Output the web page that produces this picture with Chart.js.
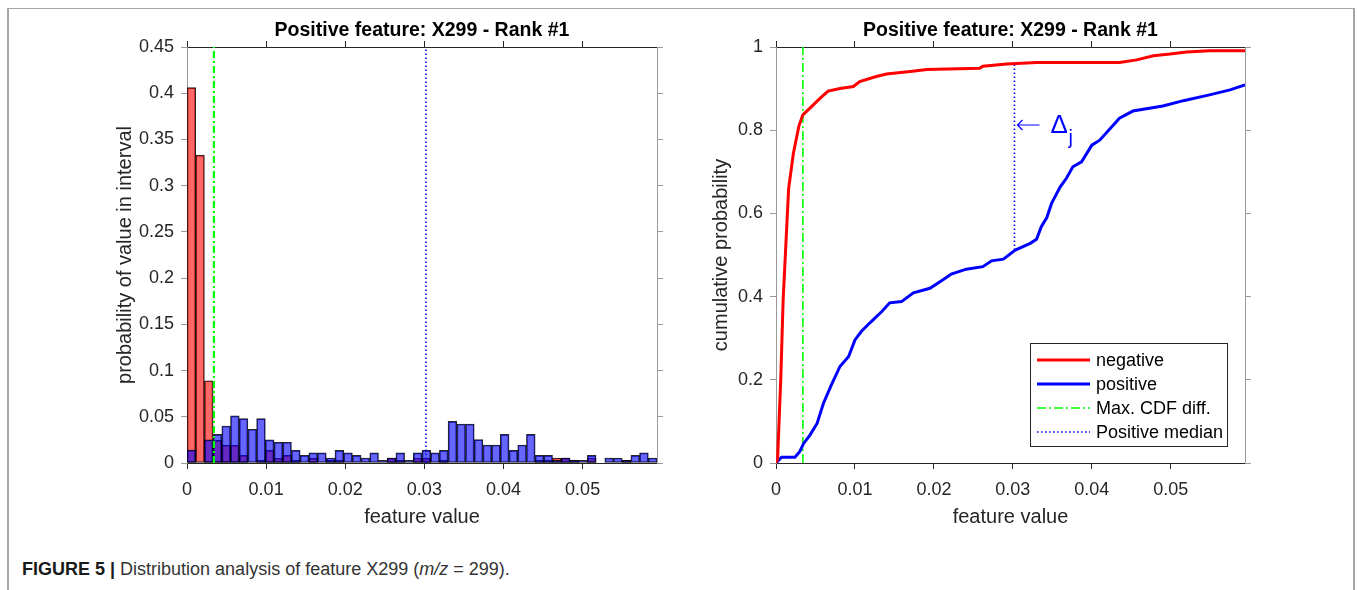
<!DOCTYPE html>
<html>
<head>
<meta charset="utf-8">
<script src="https://cdn.jsdelivr.net/npm/chart.js@4.4.1/dist/chart.umd.min.js"></script>
<style>
  body { margin:0; background:#fff; width:1357px; height:590px; overflow:hidden; position:relative;
         font-family:"Liberation Sans", Arial, Helvetica, sans-serif; }
  #frame { position:absolute; left:7px; top:8px; width:1344px; height:640px;
           border:1px solid #a6a6a6; border-left-width:2px; border-right-width:2px; }
  .plot { position:absolute; top:0; height:529px; }
  #histBox { left:113px; width:564px; }
  #cdfBox { left:709px; width:556px; }
  #caption { position:absolute; left:22px; top:559px; font-size:18px; line-height:20px; color:#333; white-space:nowrap; }
  #caption b { color:#1a1a1a; }
</style>
</head>
<body>
<div id="frame"></div>
<div class="plot" id="histBox"><canvas id="histChart"></canvas></div>
<div class="plot" id="cdfBox"><canvas id="cdfChart"></canvas></div>
<div id="caption"><b>FIGURE 5 |</b> Distribution analysis of feature X299 (<i>m/z</i> = 299).</div>

<script>
(function() {
  /* data */
  var binWidth = 0.0011;
  var xMax = 0.0594;

  // histogram: probability of value in each bin (54 bins)
  var negativeHist = [0.406, 0.333, 0.089, 0.0245, 0.019, 0.019, 0.0083, 0, 0.003, 0.0137,
                      0.005, 0.0083, 0.003, 0, 0.005, 0, 0.003, 0.003, 0, 0,
                      0, 0, 0, 0.0054, 0.003, 0, 0.0054, 0.005, 0, 0.003,
                      0, 0, 0, 0, 0, 0, 0, 0, 0, 0,
                      0.003, 0.003, 0.0054, 0.0054, 0.003, 0, 0.0054, 0, 0, 0,
                      0.003, 0, 0, 0];
  var positiveHist = [0.014, 0, 0.025, 0.031, 0.040, 0.051, 0.048, 0.0365, 0.048, 0.025,
                      0.0224, 0.0224, 0.0137, 0.0083, 0.011, 0.011, 0.0054, 0.0137, 0.011, 0.0083,
                      0.0054, 0.011, 0.003, 0.0054, 0.011, 0.003, 0.011, 0.0137, 0.011, 0.0137,
                      0.045, 0.0422, 0.0422, 0.0253, 0.0195, 0.0195, 0.031, 0.0137, 0.0195, 0.031,
                      0.0083, 0.0083, 0.003, 0.0054, 0.003, 0.003, 0.0083, 0, 0.0054, 0.0054,
                      0.003, 0.0083, 0.011, 0.0054];

  // cumulative distributions
  var negCdfX = [0, 0.0002, 0.0006, 0.0009, 0.0016, 0.0022, 0.0029, 0.0034, 0.0043, 0.0056,
                 0.0066, 0.0081, 0.0098, 0.0106, 0.0127, 0.014, 0.017, 0.0191, 0.0258, 0.0262,
                 0.0292, 0.033, 0.0435, 0.0457, 0.0478, 0.0499, 0.052, 0.0549, 0.0594];
  var negCdfY = [0, 0.01, 0.2, 0.39, 0.66, 0.744, 0.81, 0.837, 0.853, 0.877,
                 0.894, 0.90, 0.905, 0.917, 0.929, 0.935, 0.941, 0.946, 0.949, 0.954,
                 0.959, 0.963, 0.963, 0.969, 0.979, 0.983, 0.988, 0.991, 0.991];
  var posCdfX = [0, 0.0007, 0.0024, 0.003, 0.0035, 0.0043, 0.0052, 0.006, 0.007, 0.0081,
                 0.0092, 0.01, 0.0108, 0.0119, 0.0134, 0.0144, 0.0159, 0.0174, 0.0195, 0.0212,
                 0.0222, 0.0241, 0.0262, 0.0273, 0.0288, 0.0303, 0.0322, 0.033, 0.0336, 0.0343,
                 0.0349, 0.036, 0.0368, 0.0376, 0.0387, 0.04, 0.041, 0.0435, 0.0452, 0.049,
                 0.0516, 0.0549, 0.0575, 0.0594];
  var posCdfY = [0, 0.014, 0.014, 0.027, 0.047, 0.067, 0.095, 0.143, 0.187, 0.232,
                 0.256, 0.296, 0.316, 0.337, 0.364, 0.385, 0.388, 0.409, 0.42, 0.441,
                 0.454, 0.466, 0.472, 0.486, 0.49, 0.512, 0.528, 0.538, 0.568, 0.59,
                 0.624, 0.664, 0.685, 0.712, 0.724, 0.764, 0.776, 0.829, 0.846, 0.858,
                 0.871, 0.885, 0.897, 0.909];

  var maxCdfDiffX = 0.0034;
  var positiveMedianX = 0.0302;
  var medianSpan = [0.512, 0.958];   // from positive CDF up to negative CDF
  var deltaLabelY = 0.8125;

  var histYMax = 0.45, histYStep = 0.05;
  var cdfYMax = 1, cdfYStep = 0.2;
  var xStep = 0.01;
  var titleText = 'Positive feature: X299 - Rank #1';
  var legendLabels = ['negative', 'positive', 'Max. CDF diff.', 'Positive median'];

  var FONT = '"Liberation Sans", Arial, Helvetica, sans-serif';
  var DARK = '#262626', GREY = '#9a9a9a';

  function pairs(xs, ys) {
    return xs.map(function(x, i) { return {x: x, y: ys[i]}; });
  }
  function bins(vals) {
    return vals.map(function(v, i) { return {x: (i + 0.5) * binWidth, y: v}; });
  }
  // MATLAB style tick text: 0.4 not 0.40, 1 not 1.0
  function shortNum(v) {
    return String(Math.round(v * 1e6) / 1e6);
  }

  // one axis of the box, ticks pointing outward
  function axis(pos, opts) {
    var horiz = (pos === 'top' || pos === 'bottom');
    var col = horiz ? DARK : GREY;
    var cfg = {
      type: 'linear', position: pos, min: opts.min, max: opts.max, offset: false,
      ticks: { display: !!opts.labels, stepSize: opts.step, includeBounds: false,
               color: DARK, font: {family: FONT, size: 18}, padding: opts.pad || 7, maxRotation: 0,
               callback: shortNum },
      grid: { display: true, offset: false, drawOnChartArea: false, drawTicks: true,
              tickLength: 6, color: col, lineWidth: 1 },
      border: { display: true, color: col, width: 1 },
      afterFit: function(s) { if (horiz) s.height = opts.size; else s.width = opts.size; }
    };
    if (opts.title) cfg.title = opts.title;
    return cfg;
  }

  function boxScales(yMax, yStep, yLabel, yWidth) {
    return {
      x: axis('bottom', {min: 0, max: xMax, step: xStep, labels: true, pad: 10, size: 66,
        title: {display: true, text: 'feature value', color: DARK, font: {family: FONT, size: 20}, padding: 0}}),
      xTop: axis('top', {min: 0, max: xMax, step: xStep, size: 47,
        title: {display: true, text: titleText, color: '#000', font: {family: FONT, size: 19.5, weight: 'bold'},
                padding: {top: 19, bottom: 0}}}),
      y: axis('left', {min: 0, max: yMax, step: yStep, labels: true, pad: 7, size: yWidth,
        title: {display: true, text: yLabel, color: DARK, font: {family: FONT, size: 20}, padding: 0}}),
      yRight: axis('right', {min: 0, max: yMax, step: yStep, size: 20})
    };
  }

  function vline(x, y0, y1, color, width, dash, label) {
    return { type: 'line', label: label, data: [{x: x, y: y0}, {x: x, y: y1}],
             borderColor: color, borderWidth: width, borderDash: dash,
             pointRadius: 0, fill: false, order: 0 };
  }

  var common = {
    responsive: true, maintainAspectRatio: false, animation: false, devicePixelRatio: 1,
    layout: { padding: 0 },
    plugins: { legend: { display: false }, tooltip: { enabled: false }, title: { display: false } }
  };

  // left: overlapping histograms
  new Chart(document.getElementById('histChart').getContext('2d'), {
    type: 'bar',
    data: {
      datasets: [
        vline(maxCdfDiffX, 0, histYMax, '#00ff00', 2.2, [7, 3, 2, 3]),
        vline(positiveMedianX, 0, histYMax, '#0000ff', 1.6, [1.6, 2.4]),
        { type: 'bar', data: bins(positiveHist), backgroundColor: 'rgba(0,0,255,0.6)',
          borderColor: 'rgba(0,0,0,0.85)', borderWidth: 1, borderSkipped: false,
          grouped: false, barPercentage: 1, categoryPercentage: 1, order: 1 },
        { type: 'bar', data: bins(negativeHist), backgroundColor: 'rgba(255,0,0,0.6)',
          borderColor: 'rgba(0,0,0,0.85)', borderWidth: 1, borderSkipped: false,
          grouped: false, barPercentage: 1, categoryPercentage: 1, order: 2 }
      ]
    },
    options: Object.assign({}, common, {
      scales: boxScales(histYMax, histYStep, 'probability of value in interval', 74)
    })
  });

  // legend box drawn inside the CDF axes, lower right
  var cdfLegend = {
    id: 'cdfLegend',
    afterDraw: function(chart) {
      var ctx = chart.ctx, a = chart.chartArea;
      var w = 197, h = 103;
      var left = a.right - 18 - w, top = a.bottom - 17 - h;
      ctx.save();
      ctx.fillStyle = '#fff';
      ctx.fillRect(left, top, w, h);
      ctx.strokeStyle = DARK; ctx.lineWidth = 1;
      ctx.strokeRect(Math.round(left) + 0.5, Math.round(top) + 0.5, w, h);
      chart.data.datasets.forEach(function(ds, i) {
        var y = top + 17 + i * 24;
        ctx.beginPath();
        ctx.setLineDash(ds.borderDash || []);
        ctx.strokeStyle = ds.borderColor; ctx.lineWidth = ds.borderWidth;
        ctx.moveTo(left + 7, y); ctx.lineTo(left + 60, y);
        ctx.stroke();
        ctx.setLineDash([]);
        ctx.fillStyle = '#000';
        ctx.font = '18px ' + FONT;
        ctx.textBaseline = 'middle';
        ctx.fillText(ds.label, left + 66, y + 1);
      });
      ctx.restore();
    }
  };

  // "<- Delta_j" note beside the median line
  var deltaNote = {
    id: 'deltaNote',
    afterDatasetsDraw: function(chart) {
      var ctx = chart.ctx;
      var px = chart.scales.x.getPixelForValue(positiveMedianX);
      var py = chart.scales.y.getPixelForValue(deltaLabelY);
      ctx.save();
      ctx.strokeStyle = '#0000ff'; ctx.lineWidth = 1.2;
      ctx.beginPath();
      ctx.moveTo(px + 3, py); ctx.lineTo(px + 25, py);
      ctx.moveTo(px + 8, py - 5); ctx.lineTo(px + 3, py); ctx.lineTo(px + 8, py + 5);
      ctx.stroke();
      ctx.fillStyle = '#0000ff';
      ctx.textBaseline = 'alphabetic';
      ctx.font = '26px ' + FONT;
      ctx.fillText('\u0394', px + 36, py + 8);
      ctx.font = '20px ' + FONT;
      ctx.fillText('j', px + 54, py + 19);
      ctx.restore();
    }
  };

  // right: cumulative distributions
  new Chart(document.getElementById('cdfChart').getContext('2d'), {
    type: 'line',
    data: {
      datasets: [
        { label: legendLabels[0], data: pairs(negCdfX, negCdfY), borderColor: '#ff0000',
          borderWidth: 3, pointRadius: 0, fill: false, tension: 0, borderDash: [] },
        { label: legendLabels[1], data: pairs(posCdfX, posCdfY), borderColor: '#0000ff',
          borderWidth: 3, pointRadius: 0, fill: false, tension: 0, borderDash: [] },
        vline(maxCdfDiffX, 0, cdfYMax, '#00ff00', 1.6, [9, 3, 2, 3], legendLabels[2]),
        vline(positiveMedianX, medianSpan[0], medianSpan[1], '#0000ff', 1.6, [1.6, 2.4], legendLabels[3])
      ]
    },
    options: Object.assign({}, common, {
      scales: boxScales(cdfYMax, cdfYStep, 'cumulative probability', 67)
    }),
    plugins: [deltaNote, cdfLegend]
  });
})();
</script>
</body>
</html>
